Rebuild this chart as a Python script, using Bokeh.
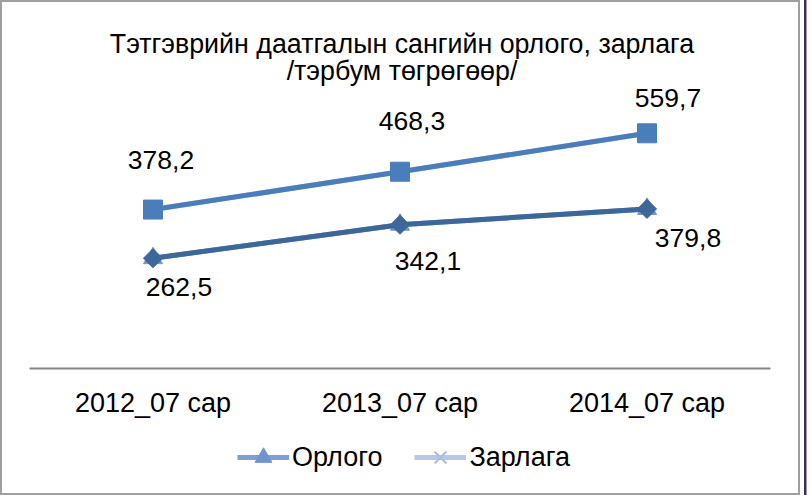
import math
from bokeh.plotting import figure
from bokeh.layouts import column
from bokeh.models import (Range1d, Label, Legend, LegendItem,
                          ColumnDataSource, FactorRange)
from bokeh.embed import file_html
from bokeh.resources import INLINE
from bokeh.core.properties import value

# ---- data ----
categories = ["2012_07 сар", "2013_07 сар", "2014_07 сар"]
upper_values = [378.2, 468.3, 559.7]
lower_values = [262.5, 342.1, 379.8]
upper_labels = ["378,2", "468,3", "559,7"]
lower_labels = ["262,5", "342,1", "379,8"]
legend_names = ["Орлого", "Зарлага"]
title_lines = ["Тэтгэврийн даатгалын сангийн орлого, зарлага", "/тэрбум төгрөгөөр/"]

# ---- label placement (style, screen px) ----
upper_dx = [8, 12, 21]
upper_dy = [-50, -51, -35]
lower_dx = [26, 28, 41]
lower_dy = [29, 36, 29]

FONT = "Liberation Sans"
FS = "26.5px"
FT = "27px"
W = 796
H1, H2 = 419, 72
ML, MR, MB = 27, 28, 53

C_OR_LINE, C_OR_MARK = "#7e9fd5", "#6f94cf"
C_ZA_LINE, C_ZA_MARK = "#b8c8e4", "#a8bde0"


def bare(fig):
    fig.xgrid.visible = False
    fig.ygrid.visible = False
    fig.outline_line_color = None
    return fig


# ---- main chart (frame reaches the top so the title sits inside it) ----
p = bare(figure(width=W, height=H1, x_range=FactorRange(*categories),
                y_range=Range1d(0, 871), output_backend="svg",
                toolbar_location=None, y_axis_location=None,
                min_border_left=ML, min_border_right=MR,
                min_border_top=0, min_border_bottom=MB))

frame_w = W - ML - MR
for txt, ty in zip(title_lines, [325, 298]):
    p.add_layout(Label(x=frame_w / 2 + 2, y=ty, x_units="screen", y_units="screen",
                       text=txt, text_align="center", text_baseline="middle",
                       text_font=FONT, text_font_size="26.8px", text_color="black"))

ax = p.xaxis[0]
ax.axis_line_color = "#868686"
ax.axis_line_width = 2
ax.major_tick_line_color = None
ax.minor_tick_line_color = None
ax.major_label_standoff = 13
ax.major_label_text_font = FONT
ax.major_label_text_font_size = FT
ax.major_label_text_color = "black"

# legend series (drawn beneath)
p.line(categories, lower_values, line_color=C_OR_LINE, line_width=5)
p.scatter(categories, lower_values, marker="triangle", size=19,
          fill_color=C_OR_MARK, line_color=C_OR_MARK)
p.line(categories, upper_values, line_color=C_ZA_LINE, line_width=5)
p.scatter(categories, upper_values, marker="x", size=16,
          line_color=C_ZA_MARK, line_width=2)

# visible top series
p.line(categories, lower_values, line_color="#3d6699", line_width=5)
p.scatter(categories, lower_values, marker="square", size=13.5, angle=math.pi / 4,
          fill_color="#3d6699", line_color="#3d6699")
p.line(categories, upper_values, line_color="#4a7ebb", line_width=5)
p.scatter(categories, upper_values, marker="square", size=19,
          fill_color="#4a7ebb", line_color="#4a7ebb")

# data labels
src_u = ColumnDataSource(dict(x=categories, y=upper_values, t=upper_labels,
                              dx=upper_dx, dy=upper_dy))
src_l = ColumnDataSource(dict(x=categories, y=lower_values, t=lower_labels,
                              dx=lower_dx, dy=lower_dy))
for s in (src_u, src_l):
    p.text(x="x", y="y", text="t", x_offset="dx", y_offset="dy", source=s,
           text_font=value(FONT), text_font_size=FS, text_color="black",
           text_align="center", text_baseline="middle")

# ---- legend strip ----
lg = bare(figure(width=W, height=H2, output_backend="svg", toolbar_location=None,
                 x_axis_location=None, y_axis_location=None,
                 min_border_left=0, min_border_right=0, min_border_top=0,
                 min_border_bottom=0, x_range=Range1d(0, 1), y_range=Range1d(0, 1)))


def off():
    return ColumnDataSource(dict(x=[-5], y=[-5]))


l1 = lg.line("x", "y", source=off(), line_color=C_OR_LINE, line_width=5)
m1 = lg.scatter("x", "y", source=off(), marker="triangle", size=19,
                fill_color=C_OR_MARK, line_color=C_OR_MARK)
l2 = lg.line("x", "y", source=off(), line_color=C_ZA_LINE, line_width=5)
m2 = lg.scatter("x", "y", source=off(), marker="x", size=16,
                line_color=C_ZA_MARK, line_width=2)
legend = Legend(items=[LegendItem(label=legend_names[0], renderers=[l1, m1]),
                       LegendItem(label=legend_names[1], renderers=[l2, m2])],
                orientation="horizontal", location=(208, 15),
                label_text_font=FONT, label_text_font_size=FT,
                label_text_color="black",
                glyph_width=52, glyph_height=42, label_standoff=3, spacing=32,
                padding=0, margin=0, border_line_color=None,
                background_fill_alpha=0)
lg.add_layout(legend, "center")

root = column(p, lg, spacing=0,
              styles={"border": "2px solid #a0a0a0", "box-sizing": "content-box",
                      "box-shadow": "4px 0 0 0 white, 6.5px 0 0 0 #3a2f52"})

html = file_html(root, INLINE)
html = html.replace("<head>", "<head><style>html,body{margin:0;overflow:hidden}"
                    "body{padding:1px 0 0 3px}</style>", 1)
open("out.html", "w").write(html)
